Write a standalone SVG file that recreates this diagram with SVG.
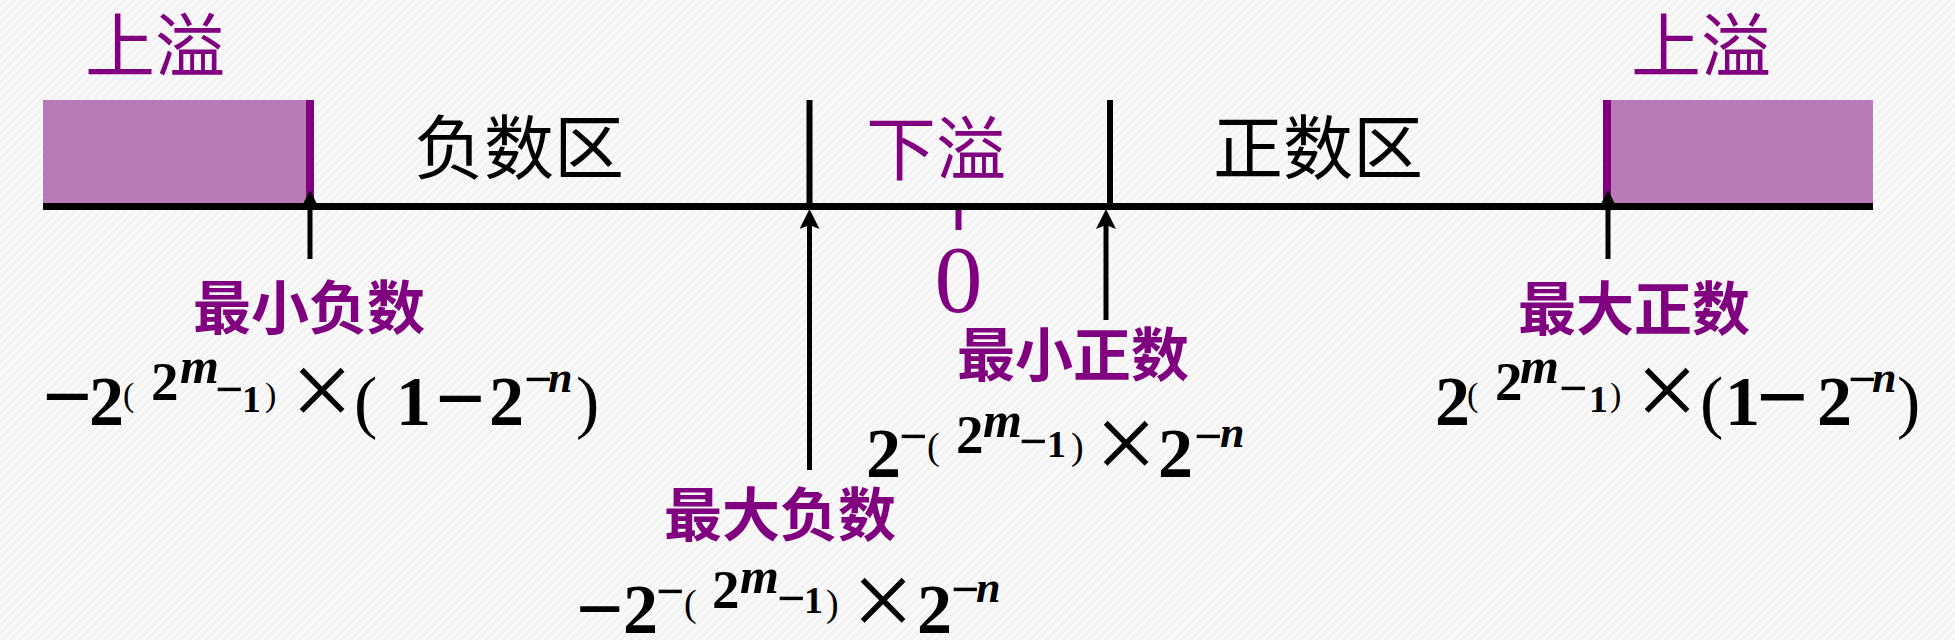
<svg xmlns="http://www.w3.org/2000/svg" width="1955" height="640" viewBox="0 0 1955 640">
  <defs>
    <pattern id="bgp" width="6" height="6" patternUnits="userSpaceOnUse" patternTransform="rotate(45)">
      <rect width="6" height="6" fill="#f3f3f3"/>
      <rect width="2.5" height="6" fill="#fbfbfb"/>
    </pattern>
    <marker id="ah" markerUnits="userSpaceOnUse" viewBox="0 0 20 20" refX="4" refY="10" markerWidth="20" markerHeight="20" orient="auto">
      <path d="M0,0 L20,10 L0,20 L4,10 z" fill="#000"/>
    </marker>
  </defs>
  <style>
    .cjk { font-family: "Noto Sans CJK SC", "Noto Sans", sans-serif; text-anchor: middle; }
    .big { font-size: 70px; }
    .lab { font-size: 58px; font-weight: bold; }
    .pur { fill: #800080; }
    .blk { fill: #000; }
    .f { font-family: "Liberation Serif", "Times New Roman", serif; fill: #000; }
    .b { font-weight: bold; }
    .bi { font-weight: bold; font-style: italic; }
    .r { font-weight: normal; }
    .ovf { fill: #b97ab8; }
    .edge { stroke: #800080; stroke-width: 8; }
    .conn { stroke: #000; stroke-width: 6; fill: none; }
    .arr { stroke: #000; stroke-width: 5; fill: none; marker-end: url(#ah); }
  </style>
  <rect width="1955" height="640" fill="url(#bgp)"/>

  <g id="overflow-left">
    <rect class="ovf" x="43" y="100" width="267" height="106"/>
    <line class="edge" x1="310" y1="100" x2="310" y2="206"/>
    <text class="cjk big pur" x="155" y="72">上溢</text>
  </g>
  <g id="overflow-right">
    <rect class="ovf" x="1607" y="100" width="266" height="106"/>
    <line class="edge" x1="1607" y1="100" x2="1607" y2="206"/>
    <text class="cjk big pur" x="1701" y="72">上溢</text>
  </g>

  <g id="axis">
    <line x1="43" y1="206.5" x2="1873" y2="206.5" stroke="#000" stroke-width="7"/>
  </g>

  <g id="connectors">
    <line class="conn" x1="809.5" y1="100" x2="809.5" y2="206"/>
    <line class="conn" x1="1110" y1="100" x2="1110" y2="206"/>
    <line x1="958.5" y1="210" x2="958.5" y2="230" stroke="#800080" stroke-width="6"/>
    <line class="arr" x1="310" y1="259" x2="310" y2="206"/>
    <line class="arr" x1="1608" y1="259" x2="1608" y2="206"/>
    <line class="arr" x1="809.5" y1="470" x2="809.5" y2="225"/>
    <line class="arr" x1="1106" y1="320" x2="1106" y2="225"/>
  </g>

  <g id="neg-zone"><text class="cjk big blk" x="519" y="174">负数区</text></g>
  <g id="underflow"><text class="cjk big pur" x="936" y="175">下溢</text></g>
  <g id="pos-zone"><text class="cjk big blk" x="1318" y="174">正数区</text></g>
  <g id="zero"><text class="pur" x="958.5" y="312" font-family="Liberation Serif, serif" font-size="96" text-anchor="middle">0</text></g>

  <g id="min-negative">
    <text class="cjk lab pur" x="309" y="329">最小负数</text>
    <text class="f">
      <tspan class="b" x="42" y="426" font-size="88">−</tspan><tspan class="b" x="89" y="425" font-size="70">2</tspan><tspan class="r" x="123" y="406" font-size="34">(</tspan><tspan class="b" x="151" y="400" font-size="55">2</tspan><tspan class="bi" x="180" y="383" font-size="50">m</tspan><tspan class="b" x="215" y="405.5" font-size="50">−</tspan><tspan class="b" x="242" y="412" font-size="38">1</tspan><tspan class="r" x="265" y="406" font-size="34">)</tspan><tspan class="r" x="291" y="427" font-size="110">×</tspan><tspan class="r" x="354" y="425" font-size="70">(</tspan><tspan class="b" x="396" y="425" font-size="70">1</tspan><tspan class="b" x="435" y="428" font-size="88">−</tspan><tspan class="b" x="489" y="425" font-size="70">2</tspan><tspan class="b" x="524" y="395.5" font-size="50">−</tspan><tspan class="bi" x="548" y="392" font-size="44">n</tspan><tspan class="r" x="576" y="425" font-size="70">)</tspan>
    </text>
  </g>

  <g id="max-negative">
    <text class="cjk lab pur" x="780" y="536">最大负数</text>
    <text class="f">
      <tspan class="b" x="576" y="637" font-size="84">−</tspan><tspan class="b" x="623" y="633" font-size="70">2</tspan><tspan class="b" x="656" y="607.5" font-size="50">−</tspan><tspan class="r" x="684" y="616" font-size="38">(</tspan><tspan class="b" x="712" y="608" font-size="55">2</tspan><tspan class="bi" x="740" y="593" font-size="50">m</tspan><tspan class="b" x="777" y="614.5" font-size="50">−</tspan><tspan class="b" x="804" y="613" font-size="38">1</tspan><tspan class="r" x="826" y="616" font-size="38">)</tspan><tspan class="r" x="852" y="637" font-size="110">×</tspan><tspan class="b" x="917" y="633" font-size="70">2</tspan><tspan class="b" x="951" y="605.5" font-size="50">−</tspan><tspan class="bi" x="976" y="602" font-size="44">n</tspan>
    </text>
  </g>

  <g id="min-positive">
    <text class="cjk lab pur" x="1073" y="376">最小正数</text>
    <text class="f">
      <tspan class="b" x="866" y="477" font-size="70">2</tspan><tspan class="b" x="899" y="452.5" font-size="50">−</tspan><tspan class="r" x="927" y="459" font-size="38">(</tspan><tspan class="b" x="956" y="453" font-size="55">2</tspan><tspan class="bi" x="983" y="437" font-size="50">m</tspan><tspan class="b" x="1019" y="457.5" font-size="50">−</tspan><tspan class="b" x="1047" y="457" font-size="38">1</tspan><tspan class="r" x="1071" y="459" font-size="38">)</tspan><tspan class="r" x="1095" y="480" font-size="110">×</tspan><tspan class="b" x="1158" y="477" font-size="70">2</tspan><tspan class="b" x="1194" y="452.5" font-size="50">−</tspan><tspan class="bi" x="1220" y="447" font-size="44">n</tspan>
    </text>
  </g>

  <g id="max-positive">
    <text class="cjk lab pur" x="1634" y="330">最大正数</text>
    <text class="f">
      <tspan class="b" x="1435" y="425" font-size="70">2</tspan><tspan class="r" x="1467" y="406" font-size="34">(</tspan><tspan class="b" x="1495" y="400" font-size="55">2</tspan><tspan class="bi" x="1520" y="383" font-size="50">m</tspan><tspan class="b" x="1559" y="404.5" font-size="50">−</tspan><tspan class="b" x="1589" y="412" font-size="38">1</tspan><tspan class="r" x="1610" y="406" font-size="34">)</tspan><tspan class="r" x="1636" y="427" font-size="110">×</tspan><tspan class="r" x="1700" y="425" font-size="70">(</tspan><tspan class="b" x="1725" y="425" font-size="70">1</tspan><tspan class="b" x="1756" y="428" font-size="92">−</tspan><tspan class="b" x="1817" y="425" font-size="70">2</tspan><tspan class="b" x="1848" y="395.5" font-size="50">−</tspan><tspan class="bi" x="1872" y="392" font-size="44">n</tspan><tspan class="r" x="1897" y="425" font-size="70">)</tspan>
    </text>
  </g>
</svg>
